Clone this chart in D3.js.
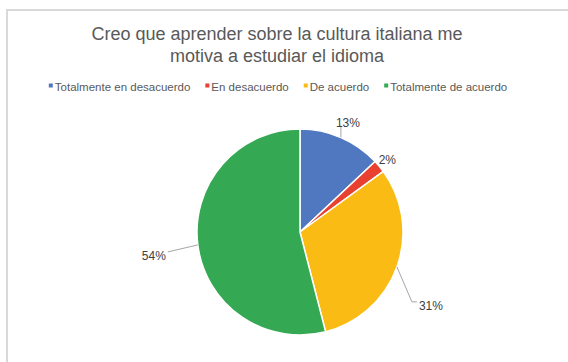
<!DOCTYPE html>
<html>
<head>
<meta charset="utf-8">
<script src="https://cdn.jsdelivr.net/npm/d3@7"></script>
<style>
  html, body { margin: 0; padding: 0; background: #ffffff; }
  svg { display: block; font-family: "Liberation Sans", Arial, Helvetica, sans-serif; }
</style>
</head>
<body>
<svg id="chart" width="568" height="362"></svg>
<script>
// Survey responses (share of respondents, %)
const categories = ["Totalmente en desacuerdo", "En desacuerdo", "De acuerdo", "Totalmente de acuerdo"];
const values = [13, 2, 31, 54];
const colors = ["#4f78c1", "#e9412f", "#fbbb15", "#34a853"];
const titleLines = ["Creo que aprender sobre la cultura italiana me", "motiva a estudiar el idioma"];

// Label placement relative to the slice's outer mid-point
const labelLayout = [
  { dx: 7, dy: -15, anchor: "middle", leader: [[0, 0], [0, -12]] },
  { dx: 8, dy: -7, anchor: "middle", leader: null },
  { dx: 22, dy: 39, anchor: "start", leader: [[0, 0], [15, 35], [20, 35]] },
  { dx: -32, dy: 11, anchor: "end", leader: [[0, 0], [-30, 7]] }
];

const svg = d3.select("#chart");
const W = 568, H = 362;

// Chart frame
svg.append("path")
  .attr("d", `M7,${H} L7,10 L${W},10`)
  .attr("fill", "none")
  .attr("stroke", "#d9d9d9")
  .attr("stroke-width", 2);

// Title
const title = svg.append("text")
  .attr("text-anchor", "middle")
  .attr("fill", "#595959")
  .attr("font-size", 18);
titleLines.forEach((t, i) => {
  title.append("tspan").attr("x", 277).attr("y", 40 + i * 22).text(t);
});

// Legend
const legend = svg.append("g").attr("font-size", 11.5).attr("fill", "#595959");
const items = legend.selectAll("g").data(categories).join("g");
items.append("rect").attr("width", 4).attr("height", 4).attr("y", -3.5)
  .attr("fill", (d, i) => colors[i]);
items.append("text").attr("x", 6).attr("y", 0).attr("dy", "0.35em").text(d => d);
let xPos = 0;
const gap = 15;
items.each(function () {
  const g = d3.select(this);
  const w = 6 + g.select("text").node().getComputedTextLength();
  g.attr("data-w", w);
});
const widths = items.nodes().map(n => +n.getAttribute("data-w"));
const total = d3.sum(widths) + gap * (widths.length - 1);
xPos = 278 - total / 2;
items.attr("transform", (d, i) => {
  const x = xPos;
  xPos += widths[i] + gap;
  return `translate(${x},87)`;
});

// Pie
const cx = 300, cy = 232, r = 103;
const pie = d3.pie().sort(null).value(d => d);
const arcs = pie(values);
const arc = d3.arc().innerRadius(0).outerRadius(r);
const g = svg.append("g").attr("transform", `translate(${cx},${cy})`);

g.selectAll("path.slice").data(arcs).join("path")
  .attr("class", "slice")
  .attr("d", arc)
  .attr("fill", (d, i) => colors[i])
  .attr("stroke", "#ffffff")
  .attr("stroke-width", 1.5)
  .attr("stroke-linejoin", "round");

// Data labels with leader lines
const line = d3.line();
arcs.forEach((d, i) => {
  const mid = (d.startAngle + d.endAngle) / 2;
  const ex = r * Math.sin(mid), ey = -r * Math.cos(mid);
  const L = labelLayout[i];
  if (L.leader) {
    g.append("path")
      .attr("d", line(L.leader.map(p => [ex + p[0], ey + p[1]])))
      .attr("fill", "none")
      .attr("stroke", "#a6a6a6")
      .attr("stroke-width", 1);
  }
  g.append("text")
    .attr("x", ex + L.dx)
    .attr("y", ey + L.dy)
    .attr("dy", "0.35em")
    .attr("text-anchor", L.anchor)
    .attr("font-size", 12)
    .attr("fill", "#404040")
    .text(Math.round(d.data) + "%");
});
</script>
</body>
</html>
